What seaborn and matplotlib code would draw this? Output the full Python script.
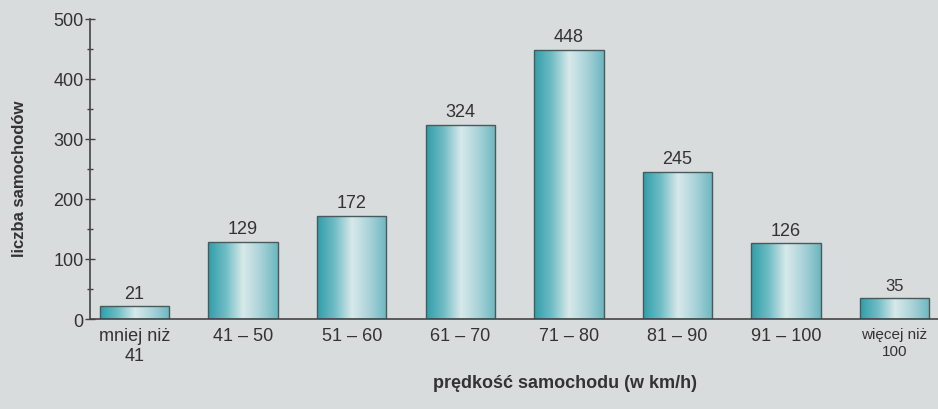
import numpy as np
import pandas as pd
import matplotlib
matplotlib.use("Agg")
import matplotlib.pyplot as plt
from matplotlib.colors import LinearSegmentedColormap
from matplotlib.ticker import MultipleLocator
import seaborn as sns

categories = ["mniej niż\n41", "41 – 50", "51 – 60", "61 – 70", "71 – 80",
              "81 – 90", "91 – 100", "więcej niż\n100"]
counts = [21, 129, 172, 324, 448, 245, 126, 35]
y_ticks = [0, 100, 200, 300, 400, 500]
x_title = "prędkość samochodu (w km/h)"
y_title = "liczba samochodów"

sns.set_theme(style="white")
bg = "#d9dcdc"
plt.rcParams["font.family"] = ["Liberation Sans", "DejaVu Sans"]

fig = plt.figure(figsize=(9.38, 4.10), dpi=100, facecolor=bg)
ax = fig.add_axes([0.096, 0.2195, 0.904, 0.732])
ax.set_facecolor(bg)

df = pd.DataFrame({"cat": categories, "n": counts})
sns.barplot(data=df, x="cat", y="n", ax=ax, width=0.64, color="#7fc0c8",
            edgecolor="#4a5a5c", linewidth=1.0)

cmap = LinearSegmentedColormap.from_list(
    "bar", ["#2f9ea9", "#6fbcc5", "#d8e9ea", "#a9d3d8", "#6cb7c0"])
grad = np.linspace(0, 1, 256).reshape(1, -1)
for p in ax.patches:
    x0, y0 = p.get_x(), p.get_y()
    w, h = p.get_width(), p.get_height()
    im = ax.imshow(grad, cmap=cmap, aspect="auto",
                   extent=[x0, x0 + w, y0, y0 + h], zorder=p.get_zorder() + 0.1)
    im.set_clip_path(p)
    p.set_facecolor("none")
    p.set_zorder(p.get_zorder() + 0.2)

for i, v in enumerate(counts):
    ax.text(i, v + 8, str(v), ha="center", va="bottom",
            fontsize=12 if i == len(counts) - 1 else 13, color="#333333")

ax.set_xlim(-0.41, 7.4)
ax.set_ylim(0, 500)
ax.set_yticks(y_ticks)
ax.yaxis.set_minor_locator(MultipleLocator(50))
ax.tick_params(axis="y", which="major", direction="inout", length=7, width=1,
               color="#444444", labelsize=13, labelcolor="#333333", pad=1, left=True)
ax.tick_params(axis="y", which="minor", direction="inout", length=5, width=1,
               color="#444444", left=True)
ax.tick_params(axis="x", length=0, labelsize=13, labelcolor="#333333", pad=6)
ax.get_xticklabels()[-1].set_fontsize(11)

for s in ["top", "right"]:
    ax.spines[s].set_visible(False)
for s in ["left", "bottom"]:
    ax.spines[s].set_color("#444444")
    ax.spines[s].set_linewidth(1.2)

ax.set_xlabel(x_title, fontsize=13, fontweight="bold", color="#333333")
ax.xaxis.set_label_coords(0.56, -0.21)
ax.xaxis.label.set_va("center")
ax.set_ylabel(y_title, fontsize=12, fontweight="bold", color="#333333")
ax.yaxis.set_label_coords(-0.083, 0.47)
ax.yaxis.label.set_va("center")

fig.savefig("out.png", dpi=100, facecolor=bg)
